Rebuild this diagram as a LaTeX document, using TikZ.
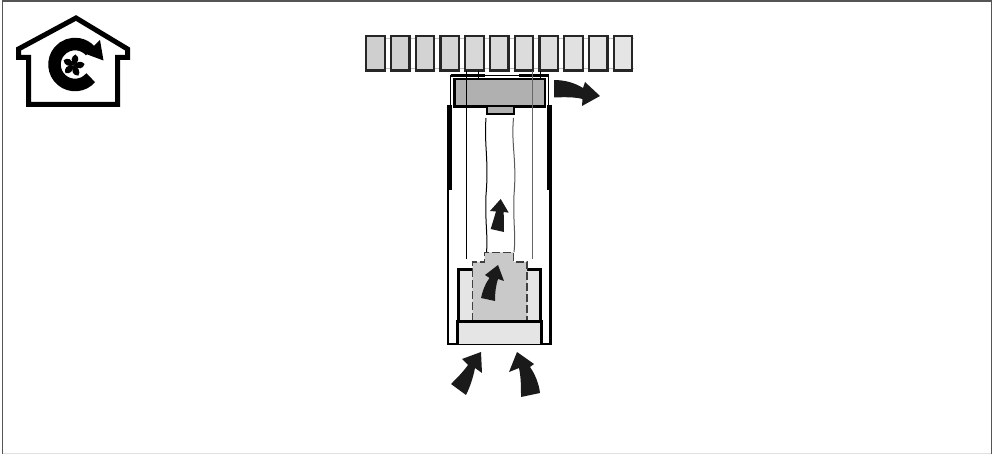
\documentclass[tikz,border=0pt]{standalone}
\usepackage{xcolor}
\definecolor{framegray}{HTML}{555555}
\definecolor{bodygray}{HTML}{E5E5E5}
\definecolor{coregray}{HTML}{C9C9C9}
\definecolor{headgray}{HTML}{B0B0B0}
\definecolor{arrowblack}{HTML}{1A1A1A}
\tikzset{
  outline/.style={draw=black,line width=2.7pt},
  slat/.style={draw=black!85,line width=2.3pt,line join=miter},
  flowarrow/.style={fill=arrowblack,draw=none},
  thinline/.style={line width=1pt},
}
\begin{document}
\begin{tikzpicture}[x=1pt,y=-1pt]
  \useasboundingbox (0,0) rectangle (997,454);
  \fill[white] (0,0) rectangle (997,454);
  % frame
  \draw[black!12,line width=1pt] (3,453.5)--(991.5,453.5);
  \draw[framegray,line width=1.6pt] (2.5,454)--(2.5,1)--(991.5,1)--(991.5,454);

  % house symbol
  \draw[black,line width=5pt,line join=miter] (76,18)--(18.5,49)--(18.5,57.5)--(28.5,57.5)--(28.5,104.5)--(117.5,104.5)--(117.5,57.5)--(127.5,57.5)--(127.5,49)--cycle;
  \draw[black,line width=12.5pt] ({75+20.5*cos(40)},{64.5+20.5*sin(40)}) arc (40:318:20.5);
  \fill[black] (100,40)--(103.5,60.5)--(86,54)--cycle;
  \foreach \ang in {0,72,144,216,288}
    \fill[black,rotate around={\ang:(73.5,65.5)}] (73.5,65.5) .. controls (70.5,61) and (71,56.5) .. (75.5,54.5) .. controls (80,57.5) and (79,62.5) .. (73.5,65.5);

  % slats
  \draw[black!25,line width=1.4pt] (366,38.5)--(634,38.5);
  \draw[black!25,line width=1.4pt] (366,68.5)--(634,68.5);
  \foreach \i in {0,...,10} {
    \pgfmathsetmacro\slatx{366.2+24.75*\i}
    \pgfmathsetmacro\shade{19-.9*\i}
    \draw[slat,fill=black!\shade] (\slatx,36.2) rectangle ({\slatx+18.5},70.6);
  }

  % head housing
  \draw[black,line width=1.4pt] (450.7,105)--(450.7,75.5)--(548.5,75.5)--(548.5,105);
  \draw[black,line width=3pt] (450.7,75.5)--(485,75.5);
  \draw[black,line width=3pt] (519,75.5)--(548.5,75.5);
  \draw[outline,fill=headgray] (454.5,79)rectangle(545,106.5);
  \draw[outline,fill=headgray,line width=2pt] (486.5,106.5)rectangle(513.5,114);

  % body walls
  \draw[black,line width=2.4pt] (448.2,105)--(448.2,344)--(550.5,344)--(550.5,105);
  \draw[black,line width=5pt] (449.5,105)--(449.5,190);
  \draw[black,line width=5pt] (549.2,105)--(549.2,190);

  % lower chamber
  \draw[outline,fill=bodygray] (458.5,321)--(458.5,269.5)--(540.5,269.5)--(540.5,321);
  \fill[coregray] (472.5,321)--(472.5,262)--(484.5,262)--(484.5,252.5)--(513.5,252.5)--(513.5,262)--(527,262)--(527,321)--cycle;
  \draw[black!75,line width=1.1pt,dash pattern=on 8pt off 3pt] (472.5,321)--(472.5,262)--(484.5,262)--(484.5,252.5)--(513.5,252.5)--(513.5,262)--(527,262)--(527,321);
  \draw[outline,fill=bodygray,line width=3pt] (457,344)--(457,322)--(541.5,322)--(541.5,344);

  % thin lines
  \draw[thinline,black] (466.5,71)--(466.5,259);
  \draw[thinline,black!60] (532.5,71)--(532.5,259);
  \draw[thinline,black] (478,71)--(478,78);
  \draw[thinline,black] (540,71)--(540,78);
  \draw[thinline,black] (486,118) .. controls (484,145) and (489,160) .. (486,195) .. controls (485,225) and (488,235) .. (486.5,252);
  \draw[thinline,black!65] (513.5,118) .. controls (511,145) and (517,160) .. (514,195) .. controls (513,225) and (516,235) .. (514,252);

  % airflow arrows
  \fill[flowarrow] (554,80) .. controls (565,80) and (575,83) .. (583,88)--(585,82)--(600,96)--(582,106)--(582.5,99) .. controls (575,97) and (565,97) .. (554,97.5)--cycle;
  \fill[flowarrow] (500.7,199)--(490,211)--(496,211.5)--(490.7,229)--(504,232)--(503.7,212)--(508.7,212.7)--cycle;
  \fill[flowarrow] (498,265)--(485,275)--(489.5,278) .. controls (485,284) and (482.5,291) .. (481,298)--(495,301) .. controls (495,292) and (496,285) .. (498,279)--(504,281)--cycle;
  \fill[flowarrow] (481,352)--(462,359)--(468,365) .. controls (463,372) and (457,378) .. (451,384)--(466,395) .. controls (470,387) and (473,378) .. (475,368)--(482,373)--cycle;
  \fill[flowarrow] (517,352)--(509,372)--(519,368) .. controls (521,377) and (521,387) .. (521,397)--(540,393) .. controls (539,384) and (535,374) .. (530,367)--(534,364)--cycle;
\end{tikzpicture}
\end{document}
